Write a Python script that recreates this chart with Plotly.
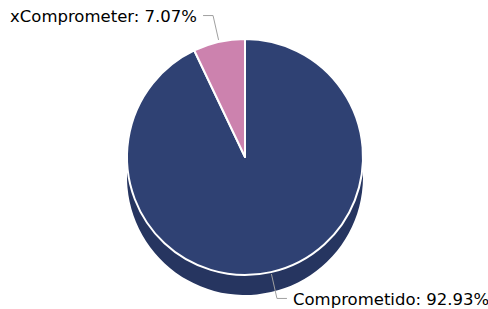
import math
import plotly.graph_objects as go

labels = ["Comprometido", "xComprometer"]
values = [92.93, 7.07]
colors = ["#2f4173", "#cc82ae"]
depth_colors = ["#263560", "#a86a8f"]

W, H = 488, 309
cx, cy, r, depth = 245, 157, 118, 20


def px(x):
    return x / W


def py(y):
    return 1 - y / H


fig = go.Figure()

# depth (side) of the 3D pie
fig.add_trace(go.Pie(
    labels=labels, values=values, sort=False, direction="clockwise", rotation=0,
    marker=dict(colors=depth_colors, line=dict(width=0)),
    textinfo="none", hoverinfo="skip", showlegend=False,
    domain=dict(x=[px(cx - r), px(cx + r)], y=[py(cy + depth + r), py(cy + depth - r)]),
))
# top face
fig.add_trace(go.Pie(
    labels=labels, values=values, sort=False, direction="clockwise", rotation=0,
    marker=dict(colors=colors, line=dict(color="white", width=2)),
    textinfo="none", showlegend=False,
    domain=dict(x=[px(cx - r), px(cx + r)], y=[py(cy + r), py(cy - r)]),
))

shapes = [dict(type="rect", xref="paper", yref="paper", layer="below",
               x0=px(cx - r), x1=px(cx + r), y0=py(cy + depth), y1=py(cy),
               fillcolor=depth_colors[0], line=dict(width=0))]
annotations = []

total = sum(values)
cum = 0.0
for lab, v in zip(labels, values):
    mid = (cum + v / 2) / total * 2 * math.pi
    cum += v
    sx, sy = cx + (r + 2) * math.sin(mid), cy - (r + 2) * math.cos(mid)
    ex, ey = cx + (r + 27) * math.sin(mid), cy - (r + 27) * math.cos(mid)
    side = 1 if math.sin(mid) >= 0 else -1
    hx = ex + side * 10
    shapes.append(dict(type="path", xref="paper", yref="paper", layer="above",
                       path=f"M {px(sx)} {py(sy)} L {px(ex)} {py(ey)} L {px(hx)} {py(ey)}",
                       line=dict(color="#a0a0a0", width=1)))
    annotations.append(dict(
        x=px(hx + side * 4), y=py(ey + 1), xref="paper", yref="paper",
        text=f"{lab}: {v:.2f}%", showarrow=False,
        xanchor="left" if side > 0 else "right", yanchor="middle",
        font=dict(family="DejaVu Sans", size=16.5, color="#000000"),
    ))

fig.update_layout(
    width=W, height=H, margin=dict(l=0, r=0, t=0, b=0),
    paper_bgcolor="white", plot_bgcolor="white",
    shapes=shapes, annotations=annotations, showlegend=False,
)

fig.write_html("out.html", config={"displayModeBar": False},
               post_script="document.body.style.margin='0';")
